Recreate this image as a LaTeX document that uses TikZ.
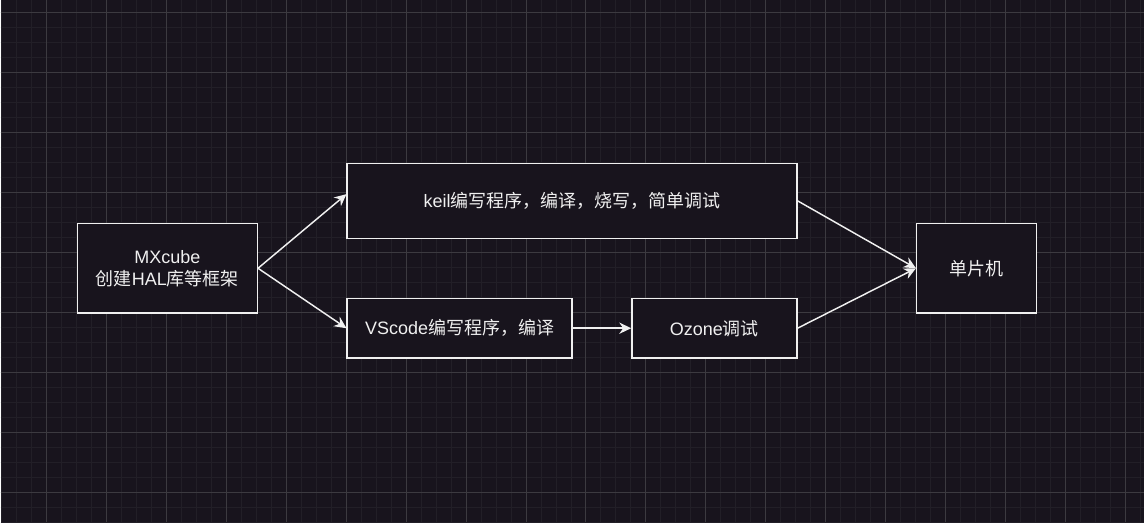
\documentclass[tikz,border=0pt]{standalone}
\usepackage{fontspec}
\setmainfont{Liberation Sans}
\newfontfamily\cjk{Noto Sans CJK SC}
\usetikzlibrary{arrows.meta}
\definecolor{bg}{HTML}{18141D}
\definecolor{fg}{HTML}{F0F0F0}
\definecolor{minorline}{HTML}{221F27}
\definecolor{majorline}{HTML}{3C3A40}
\begin{document}
\begin{tikzpicture}[x=0.75pt,y=-0.75pt,
    box/.style={draw=fg,fill=bg,line width=1.1pt,inner sep=0pt,text=fg,align=center,font=\fontsize{13.5}{16.5}\selectfont},
    link/.style={draw=fg,line width=1.1pt,-{Stealth[length=9pt,width=8.5pt,inset=3pt]}}]
            \fill[bg] (0,0) rectangle (1144,522);
            \foreach \x in {1,16,...,1141} \draw[minorline,line width=.75pt] (\x,0) -- (\x,522);
            \foreach \y in {12,27,...,522} \draw[minorline,line width=.75pt] (0,\y) -- (1144,\y);
            \foreach \x in {46,106,...,1126} \draw[majorline,line width=.75pt] (\x,0) -- (\x,522);
            \foreach \y in {12,72,...,492} \draw[majorline,line width=.75pt] (0,\y) -- (1144,\y);
            \node(mx)[box,minimum width=135pt,minimum height=67.5pt] at (167,268){MXcube\\{\cjk 创建}HAL{\cjk 库等框架}};
            \node(keil)[box,minimum width=337.5pt,minimum height=56.25pt] at (572,200.5){keil{\cjk 编写程序，编译，烧写，简单调试}};
            \node(vs)[box,minimum width=168.75pt,minimum height=45pt] at (459.5,328){VScode{\cjk 编写程序，编译}};
            \node(oz)[box,minimum width=123.75pt,minimum height=45pt] at (714.5,328){Ozone{\cjk 调试}};
            \node(mcu)[box,minimum width=90pt,minimum height=67.5pt] at (977,268){\cjk 单片机};
            \draw[link] (mx.east) -- ([yshift=5pt]keil.west);
            \draw[link] (mx.east) -- (vs.west);
            \draw[link] (vs.east) -- (oz.west);
            \draw[link] (keil.east) -- (mcu.west);
            \draw[link] (oz.east) -- (mcu.west);
        \end{tikzpicture}
\end{document}
